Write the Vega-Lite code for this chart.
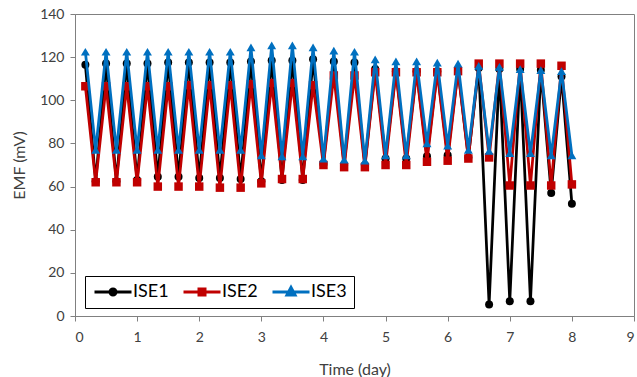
{
  "$schema": "https://vega.github.io/schema/vega-lite/v6.json",
  "width": 559,
  "height": 302,
  "autosize": {"type": "none"},
  "padding": {"left": 75, "top": 14, "right": 3, "bottom": 61},
  "background": "white",
  "config": {
    "view": {"stroke": "#808080", "strokeWidth": 1},
    "font": "Lato",
    "axis": {"grid": false, "domainColor": "#808080", "tickColor": "#808080", "labelColor": "#404040", "titleColor": "#404040", "labelFont": "Lato", "titleFont": "Lato", "labelFontSize": 14, "titleFontSize": 16, "titleFontWeight": "normal", "tickSize": 5}
  },
  "data": {"values": [
    {"t":0.167,"s":"ISE1","v":116.5},{"t":0.333,"s":"ISE1","v":62.5},{"t":0.5,"s":"ISE1","v":117},{"t":0.667,"s":"ISE1","v":62.5},{"t":0.833,"s":"ISE1","v":117},{"t":1,"s":"ISE1","v":63},
    {"t":1.167,"s":"ISE1","v":117},{"t":1.333,"s":"ISE1","v":64.5},{"t":1.5,"s":"ISE1","v":117.5},{"t":1.667,"s":"ISE1","v":64.5},{"t":1.833,"s":"ISE1","v":117.5},{"t":2,"s":"ISE1","v":64},
    {"t":2.167,"s":"ISE1","v":117.5},{"t":2.333,"s":"ISE1","v":64},{"t":2.5,"s":"ISE1","v":117.5},{"t":2.667,"s":"ISE1","v":63.5},{"t":2.833,"s":"ISE1","v":118},{"t":3,"s":"ISE1","v":62.5},
    {"t":3.167,"s":"ISE1","v":118.5},{"t":3.333,"s":"ISE1","v":63},{"t":3.5,"s":"ISE1","v":118.5},{"t":3.667,"s":"ISE1","v":63},{"t":3.833,"s":"ISE1","v":119},{"t":4,"s":"ISE1","v":70.5},
    {"t":4.167,"s":"ISE1","v":118},{"t":4.333,"s":"ISE1","v":70},{"t":4.5,"s":"ISE1","v":117.5},{"t":4.667,"s":"ISE1","v":70},{"t":4.833,"s":"ISE1","v":114.5},{"t":5,"s":"ISE1","v":73},
    {"t":5.167,"s":"ISE1","v":113.5},{"t":5.333,"s":"ISE1","v":73},{"t":5.5,"s":"ISE1","v":113.5},{"t":5.667,"s":"ISE1","v":74},{"t":5.833,"s":"ISE1","v":113.5},{"t":6,"s":"ISE1","v":74.5},
    {"t":6.167,"s":"ISE1","v":114},{"t":6.333,"s":"ISE1","v":73.5},{"t":6.5,"s":"ISE1","v":115},{"t":6.667,"s":"ISE1","v":5.3},{"t":6.833,"s":"ISE1","v":114.5},{"t":7,"s":"ISE1","v":6.8},
    {"t":7.167,"s":"ISE1","v":114.5},{"t":7.333,"s":"ISE1","v":6.8},{"t":7.5,"s":"ISE1","v":114},{"t":7.667,"s":"ISE1","v":57},{"t":7.833,"s":"ISE1","v":111},{"t":8,"s":"ISE1","v":52},

    {"t":0.167,"s":"ISE2","v":106.5},{"t":0.333,"s":"ISE2","v":62},{"t":0.5,"s":"ISE2","v":106.5},{"t":0.667,"s":"ISE2","v":62},{"t":0.833,"s":"ISE2","v":106.5},{"t":1,"s":"ISE2","v":62},
    {"t":1.167,"s":"ISE2","v":106.5},{"t":1.333,"s":"ISE2","v":60},{"t":1.5,"s":"ISE2","v":106.5},{"t":1.667,"s":"ISE2","v":60},{"t":1.833,"s":"ISE2","v":107},{"t":2,"s":"ISE2","v":60},
    {"t":2.167,"s":"ISE2","v":107},{"t":2.333,"s":"ISE2","v":59.5},{"t":2.5,"s":"ISE2","v":107},{"t":2.667,"s":"ISE2","v":59.5},{"t":2.833,"s":"ISE2","v":107.5},{"t":3,"s":"ISE2","v":61.5},
    {"t":3.167,"s":"ISE2","v":108},{"t":3.333,"s":"ISE2","v":63.5},{"t":3.5,"s":"ISE2","v":108},{"t":3.667,"s":"ISE2","v":63.5},{"t":3.833,"s":"ISE2","v":107},{"t":4,"s":"ISE2","v":70},
    {"t":4.167,"s":"ISE2","v":111.5},{"t":4.333,"s":"ISE2","v":69},{"t":4.5,"s":"ISE2","v":111.5},{"t":4.667,"s":"ISE2","v":69},{"t":4.833,"s":"ISE2","v":113},{"t":5,"s":"ISE2","v":70},
    {"t":5.167,"s":"ISE2","v":113},{"t":5.333,"s":"ISE2","v":70},{"t":5.5,"s":"ISE2","v":113},{"t":5.667,"s":"ISE2","v":71.5},{"t":5.833,"s":"ISE2","v":113},{"t":6,"s":"ISE2","v":72},
    {"t":6.167,"s":"ISE2","v":113.5},{"t":6.333,"s":"ISE2","v":73},{"t":6.5,"s":"ISE2","v":117},{"t":6.667,"s":"ISE2","v":73.5},{"t":6.833,"s":"ISE2","v":117},{"t":7,"s":"ISE2","v":60.5},
    {"t":7.167,"s":"ISE2","v":117},{"t":7.333,"s":"ISE2","v":60.5},{"t":7.5,"s":"ISE2","v":117},{"t":7.667,"s":"ISE2","v":60.5},{"t":7.833,"s":"ISE2","v":116},{"t":8,"s":"ISE2","v":61},

    {"t":0.167,"s":"ISE3","v":122.5},{"t":0.333,"s":"ISE3","v":77},{"t":0.5,"s":"ISE3","v":122.5},{"t":0.667,"s":"ISE3","v":77},{"t":0.833,"s":"ISE3","v":122.5},{"t":1,"s":"ISE3","v":77},
    {"t":1.167,"s":"ISE3","v":122.5},{"t":1.333,"s":"ISE3","v":77},{"t":1.5,"s":"ISE3","v":122.5},{"t":1.667,"s":"ISE3","v":77},{"t":1.833,"s":"ISE3","v":122.5},{"t":2,"s":"ISE3","v":77},
    {"t":2.167,"s":"ISE3","v":122.5},{"t":2.333,"s":"ISE3","v":77},{"t":2.5,"s":"ISE3","v":122.5},{"t":2.667,"s":"ISE3","v":77},{"t":2.833,"s":"ISE3","v":124.5},{"t":3,"s":"ISE3","v":74.5},
    {"t":3.167,"s":"ISE3","v":125.5},{"t":3.333,"s":"ISE3","v":74},{"t":3.5,"s":"ISE3","v":125.5},{"t":3.667,"s":"ISE3","v":74},{"t":3.833,"s":"ISE3","v":124.5},{"t":4,"s":"ISE3","v":73},
    {"t":4.167,"s":"ISE3","v":123},{"t":4.333,"s":"ISE3","v":72.5},{"t":4.5,"s":"ISE3","v":122.5},{"t":4.667,"s":"ISE3","v":72},{"t":4.833,"s":"ISE3","v":119},{"t":5,"s":"ISE3","v":74.5},
    {"t":5.167,"s":"ISE3","v":118},{"t":5.333,"s":"ISE3","v":74.5},{"t":5.5,"s":"ISE3","v":118},{"t":5.667,"s":"ISE3","v":80},{"t":5.833,"s":"ISE3","v":117.5},{"t":6,"s":"ISE3","v":79},
    {"t":6.167,"s":"ISE3","v":117},{"t":6.333,"s":"ISE3","v":77},{"t":6.5,"s":"ISE3","v":116},{"t":6.667,"s":"ISE3","v":76.5},{"t":6.833,"s":"ISE3","v":115.5},{"t":7,"s":"ISE3","v":75.5},
    {"t":7.167,"s":"ISE3","v":114.5},{"t":7.333,"s":"ISE3","v":75.5},{"t":7.5,"s":"ISE3","v":114},{"t":7.667,"s":"ISE3","v":74.5},{"t":7.833,"s":"ISE3","v":113.5},{"t":8,"s":"ISE3","v":74.5}
  ]},
  "encoding": {
    "x": {"field": "t", "type": "quantitative", "scale": {"domain": [0, 9], "nice": false, "zero": false},
      "axis": {"title": "Time (day)", "values": [0,1,2,3,4,5,6,7,8,9], "labelPadding": 9, "titlePadding": 17}},
    "y": {"field": "v", "type": "quantitative", "scale": {"domain": [0, 140], "nice": false},
      "axis": {"title": "EMF (mV)", "values": [0,20,40,60,80,100,120,140], "labelPadding": 6, "titlePadding": 12}},
    "color": {"field": "s", "type": "nominal",
      "scale": {"domain": ["ISE1","ISE2","ISE3"], "range": ["#000000","#C00000","#0070C0"]},
      "legend": {
        "title": null, "orient": "none", "legendX": 10, "legendY": 262, "direction": "horizontal",
        "strokeColor": "#000000", "fillColor": "white", "padding": 7,
        "labelFont": "Lato", "labelFontSize": 18, "labelColor": "#000000",
        "symbolSize": 100, "symbolStrokeWidth": 3, "symbolOffset": 12, "labelOffset": 11, "columnPadding": 8,
        "encode": {"symbols": {"update": {
          "shape": {"signal": "datum.value === 'ISE1' ? 'M-3.7,0L3.7,0M0.6,0A0.6,0.6,0,1,1,-0.6,0A0.6,0.6,0,1,1,0.6,0Z' : datum.value === 'ISE2' ? 'M-3.7,0L3.7,0M-0.6,-0.6L0.6,-0.6L0.6,0.6L-0.6,0.6Z' : 'M-3.7,0L3.7,0M0,-0.9L0.8,0.6L-0.8,0.6Z'"},
          "fill": {"signal": "datum.value === 'ISE1' ? '#000000' : datum.value === 'ISE2' ? '#C00000' : '#0070C0'"},
          "stroke": {"signal": "datum.value === 'ISE1' ? '#000000' : datum.value === 'ISE2' ? '#C00000' : '#0070C0'"},
          "strokeWidth": {"value": 3},
          "opacity": {"value": 1}
        }}}
      }
    }
  },
  "layer": [
    {"transform": [{"filter": "datum.s === 'ISE1'"}], "mark": {"type": "line", "strokeWidth": 2.75}},
    {"transform": [{"filter": "datum.s === 'ISE1'"}], "mark": {"type": "point", "shape": "circle", "filled": true, "opacity": 1, "size": 64}},
    {"transform": [{"filter": "datum.s === 'ISE2'"}], "mark": {"type": "line", "strokeWidth": 2.75}},
    {"transform": [{"filter": "datum.s === 'ISE2'"}], "mark": {"type": "point", "shape": "square", "filled": true, "opacity": 1, "size": 72}},
    {"transform": [{"filter": "datum.s === 'ISE3'"}], "mark": {"type": "line", "strokeWidth": 2.75}},
    {"transform": [{"filter": "datum.s === 'ISE3'"}], "mark": {"type": "point", "shape": "triangle-up", "filled": true, "opacity": 1, "size": 80}}
  ]
}
